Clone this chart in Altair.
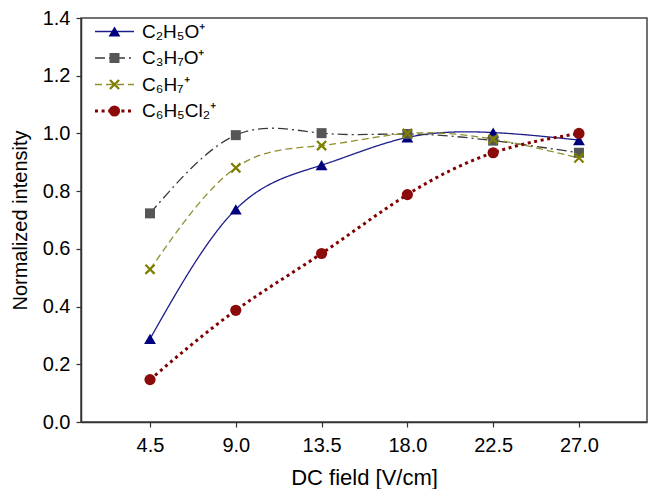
import altair as alt
import pandas as pd

# ---- data ----
fields = [4.5, 9.0, 13.5, 18.0, 22.5, 27.0]
series_names = ["C₂H₅O⁺", "C₃H₇O⁺", "C₆H₇⁺", "C₆H₅Cl₂⁺"]
series_keys = ["a", "b", "c", "d"]
c2h5o = [0.288, 0.737, 0.890, 0.986, 1.003, 0.977]
c3h7o = [0.723, 0.994, 1.001, 0.998, 0.975, 0.933]
c6h7 = [0.529, 0.881, 0.958, 1.000, 0.980, 0.915]
c6h5cl2 = [0.147, 0.387, 0.584, 0.788, 0.933, 1.000]
y_ticks = [0.0, 0.2, 0.4, 0.6, 0.8, 1.0, 1.2, 1.4]

# ---- styles ----
line_colors = ["#1c1c8a", "#3a3a3a", "#8f8f2e", "#800000"]
point_colors = ["#00007f", "#565656", "#7f7f00", "#8b0a0a"]
dashes = [[1, 0], [10, 4, 2, 4], [7, 4], [3, 3.6]]
widths = [1.3, 1.3, 1.3, 3.0]
point_sizes = [140, 100, 115, 125]
X_PATH = ("M-1,-0.7 L-0.7,-1 L0,-0.3 L0.7,-1 L1,-0.7 L0.3,0 L1,0.7 "
          "L0.7,1 L0,0.3 L-0.7,1 L-1,0.7 L-0.3,0 Z")
shapes = ["triangle-up", "square", X_PATH, "circle"]
LINE_SYMBOL = "M-3.72,0 L3.72,0"

rows = []
for key, vals in zip(series_keys, [c2h5o, c3h7o, c6h7, c6h5cl2]):
    for f, v in zip(fields, vals):
        rows.append({"field": f, "value": v, "k_line": key, "k_pt": key})
df = pd.DataFrame(rows)

FONT = "Liberation Sans"
label_expr = "[{}][indexof([{}], datum.value)]".format(
    ",".join("'" + n + "'" for n in series_names),
    ",".join("'" + k + "'" for k in series_keys),
)

x_enc = alt.X(
    "field:Q",
    scale=alt.Scale(domain=[0.88, 30.57], nice=False, zero=False),
    axis=alt.Axis(values=fields, format=".1f", title="DC field [V/cm]",
                  labelFontSize=20, titleFontSize=22, labelPadding=8,
                  titlePadding=12, tickSize=5, grid=False),
)
y_enc = alt.Y(
    "value:Q",
    scale=alt.Scale(domain=[0, 1.4], nice=False),
    axis=alt.Axis(values=y_ticks, format=".1f", title="Normalized intensity",
                  labelFontSize=20, titleFontSize=20, labelPadding=6,
                  titlePadding=12, tickSize=5, grid=False),
)

common_leg = dict(
    title=None, orient="none", legendX=24, legendY=4, symbolSize=110,
    labelFontSize=19, labelFont=FONT, labelOffset=18, rowPadding=6.5,
    padding=0, labelExpr=label_expr,
)
line_legend = alt.Legend(symbolType=LINE_SYMBOL, labelColor="#000000", **common_leg)
shape_legend = alt.Legend(labelColor="transparent", **common_leg)

lines = alt.Chart(df).mark_line(interpolate="natural").encode(
    x=x_enc,
    y=y_enc,
    stroke=alt.Stroke("k_line:N", scale=alt.Scale(range=line_colors),
                      legend=line_legend),
    strokeDash=alt.StrokeDash("k_line:N", scale=alt.Scale(range=dashes),
                              legend=line_legend),
    strokeWidth=alt.StrokeWidth("k_line:N",
                                scale=alt.Scale(type="ordinal", range=widths),
                                legend=line_legend),
)

points = alt.Chart(df).mark_point(filled=True, opacity=1, strokeWidth=0).encode(
    x=x_enc,
    y=y_enc,
    fill=alt.Fill("k_pt:N", scale=alt.Scale(range=point_colors),
                  legend=shape_legend),
    shape=alt.Shape("k_pt:N", scale=alt.Scale(range=shapes),
                    legend=shape_legend),
    size=alt.Size("k_pt:N", scale=alt.Scale(type="ordinal", range=point_sizes),
                  legend=shape_legend),
)

chart = alt.layer(lines, points).properties(
    width=566,
    height=404,
    padding={"left": 73, "top": 10, "right": 1, "bottom": 67},
    autosize=alt.AutoSizeParams(type="none"),
).configure(
    font=FONT,
).configure_axis(
    labelFont=FONT, titleFont=FONT, titleFontWeight="normal",
    labelColor="#000000", titleColor="#000000",
    domainColor="#333333", tickColor="#333333", domainWidth=1.5,
    tickWidth=1.2,
).configure_view(
    stroke="#444444", strokeWidth=1.5,
)

chart.save("out.html", embed_options={"renderer": "svg", "actions": False})
